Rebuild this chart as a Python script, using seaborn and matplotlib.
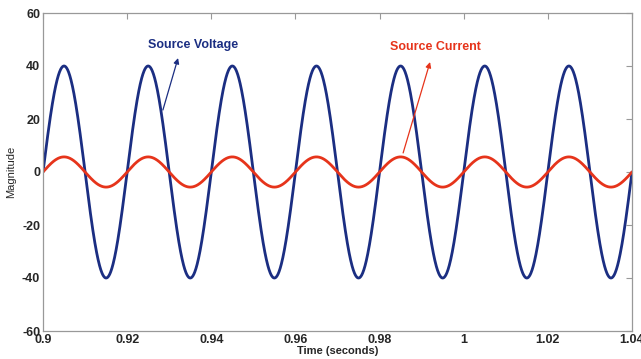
import numpy as np
import pandas as pd
import seaborn as sns
import matplotlib
matplotlib.use("Agg")
import matplotlib.pyplot as plt

# Values
t_start, t_end = 0.9, 1.04
freq_hz = 50.0                 # one cycle every 0.02 s
voltage_amplitude = 40.0
current_amplitude = 5.7
series_names = ["Source Voltage", "Source Current"]
series_colors = ["#1b2e82", "#e6341b"]
x_ticks = [0.9, 0.92, 0.94, 0.96, 0.98, 1.0, 1.02, 1.04]
x_tick_labels = ["0.9", "0.92", "0.94", "0.96", "0.98", "1", "1.02", "1.04"]
y_ticks = [-60, -40, -20, 0, 20, 40, 60]

t = np.linspace(t_start, t_end, 2000)
phase = np.sin(2 * np.pi * freq_hz * (t - t_start))
df = pd.concat([
    pd.DataFrame({"t": t, "v": voltage_amplitude * phase, "s": series_names[0]}),
    pd.DataFrame({"t": t, "v": current_amplitude * phase, "s": series_names[1]}),
])

sns.set_style("white")
plt.rcParams["font.family"] = ["Liberation Sans", "DejaVu Sans"]
plt.rcParams["axes.unicode_minus"] = False

fig = plt.figure(figsize=(6.41, 3.59), dpi=100)
ax = fig.add_axes([43 / 641, 1 - 331 / 359, 589 / 641, 318 / 359])

sns.lineplot(data=df, x="t", y="v", hue="s", palette=series_colors,
             linewidth=2.0, legend=False, ax=ax, estimator=None, sort=False)

ax.set_xlim(t_start, t_end)
ax.set_ylim(-60, 60)
ax.set_xticks(x_ticks)
ax.set_xticklabels(x_tick_labels)
ax.set_yticks(y_ticks)
ax.set_yticklabels([str(v) for v in y_ticks])
ax.tick_params(direction="in", length=4, color="#999999", top=True, right=True,
               labelsize=9, pad=2)
for lab in ax.get_xticklabels() + ax.get_yticklabels():
    lab.set_fontweight("bold")
for sp in ax.spines.values():
    sp.set_color("#999999")
    sp.set_linewidth(0.9)

ax.set_xlabel("Time (seconds)", fontsize=8, fontweight="bold", labelpad=0)
ax.set_ylabel("Magnitude", fontsize=8, labelpad=4)

ax.annotate("", xy=(0.9321, 43), xytext=(0.9285, 23.4),
            arrowprops=dict(arrowstyle="-|>", color=series_colors[0], lw=0.9,
                            mutation_scale=8, shrinkA=0, shrinkB=0))
ax.text(0.9357, 48, series_names[0], color=series_colors[0], fontsize=9,
        fontweight="bold", ha="center", va="center")
ax.annotate("", xy=(0.9920, 41.5), xytext=(0.9856, 7.2),
            arrowprops=dict(arrowstyle="-|>", color=series_colors[1], lw=0.9,
                            mutation_scale=8, shrinkA=0, shrinkB=0))
ax.text(0.9932, 47, series_names[1], color=series_colors[1], fontsize=9,
        fontweight="bold", ha="center", va="center")

fig.savefig("out.png", dpi=100)
